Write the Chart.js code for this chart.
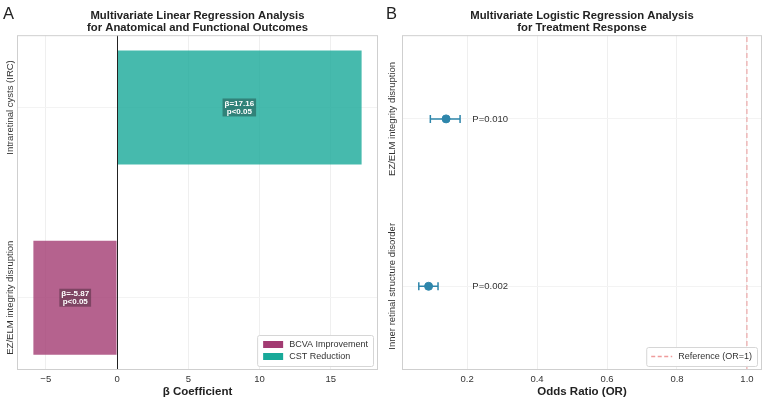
<!DOCTYPE html>
<html>
<head>
<meta charset="utf-8">
<script src="https://cdn.jsdelivr.net/npm/chart.js@4"></script>
<style>
html, body { margin: 0; padding: 0; background: #fff; }
#wrap { display: flex; width: 767px; height: 403px; }
canvas { display: block; }
</style>
</head>
<body>
<div id="wrap">
    <canvas id="chartA" width="383" height="403"></canvas>
    <canvas id="chartB" width="384" height="403"></canvas>
</div>
<script>
const FONT = '"Liberation Sans", Arial, Helvetica, sans-serif';

// Panel A - linear regression (index 0 = bottom row)
const linearCategories = ["EZ/ELM integrity disruption", "Intraretinal cysts (IRC)"];
const bcvaBeta = [-5.87, null];
const cstBeta = [null, 17.16];
const linearP = ["p<0.05", "p<0.05"];
const linearTicks = [-5, 0, 5, 10, 15];

// Panel B - logistic regression (index 0 = bottom row)
const logisticCategories = ["Inner retinal structure disorder", "EZ/ELM integrity disruption"];
const oddsRatio = [0.09, 0.14];
const ciLow = [0.062, 0.095];
const ciHigh = [0.117, 0.18];
const pValues = ["P=0.002", "P=0.010"];
const orTicks = [0.2, 0.4, 0.6, 0.8, 1.0];
const referenceOR = 1;

const toPoints = (vals) => vals
    .map((v, i) => (v === null ? null : { x: v, y: i }))
    .filter((p) => p !== null);

// draws the panel letter, plot frame, rotated category labels and in-plot legend
const panelDecor = {
    id: "panelDecor",
    afterDraw(chart, args, opts) {
        const ctx = chart.ctx;
        const area = chart.chartArea;
        const y = chart.scales.y;
        ctx.save();

        ctx.fillStyle = "#222";
        ctx.font = "16.5px " + FONT;
        ctx.textAlign = "left";
        ctx.textBaseline = "alphabetic";
        ctx.fillText(opts.letter, 3, 19);

        ctx.strokeStyle = "#cfcfcf";
        ctx.lineWidth = 1;
        ctx.strokeRect(area.left + 0.5, area.top + 0.5, area.right - area.left - 1, area.bottom - area.top - 1);

        ctx.fillStyle = "#333";
        ctx.font = "9.5px " + FONT;
        ctx.textAlign = "center";
        ctx.textBaseline = "middle";
        opts.categories.forEach((label, i) => {
            ctx.save();
            ctx.translate(opts.labelX, y.getPixelForValue(i));
            ctx.rotate(-Math.PI / 2);
            ctx.fillText(label, 0, 0);
            ctx.restore();
        });

        // legend box at lower right inside the plot
        const items = opts.legend;
        ctx.font = "9px " + FONT;
        const textW = Math.max(...items.map((it) => ctx.measureText(it.label).width));
        const rowH = 12;
        const boxW = 6 + 20 + 6 + textW + 5;
        const boxH = items.length * rowH + 7;
        const bx = area.right - 5 - boxW;
        const by = area.bottom - 4 - boxH;
        ctx.fillStyle = "rgba(255,255,255,0.9)";
        ctx.strokeStyle = "#d6d6d6";
        ctx.beginPath();
        ctx.roundRect(bx + 0.5, by + 0.5, boxW, boxH, 2);
        ctx.fill();
        ctx.stroke();
        items.forEach((it, i) => {
            const cy = by + 3.5 + rowH * i + rowH / 2;
            if (it.kind === "patch") {
                ctx.fillStyle = it.color;
                ctx.fillRect(bx + 6, cy - 3.5, 20, 7);
            } else {
                ctx.strokeStyle = it.color;
                ctx.lineWidth = 1.3;
                ctx.setLineDash([4, 2.5]);
                ctx.beginPath();
                ctx.moveTo(bx + 5, cy);
                ctx.lineTo(bx + 26, cy);
                ctx.stroke();
                ctx.setLineDash([]);
            }
            ctx.fillStyle = "#333";
            ctx.textAlign = "left";
            ctx.textBaseline = "middle";
            ctx.fillText(it.label, bx + 32, cy + 0.5);
        });
        ctx.restore();
    },
};

// zero line and beta labels in the bars of panel A
const betaLabels = {
    id: "betaLabels",
    afterDatasetsDraw(chart) {
        const ctx = chart.ctx;
        const xs = chart.scales.x;
        const ys = chart.scales.y;
        const area = chart.chartArea;
        ctx.save();
        const x0 = Math.round(xs.getPixelForValue(0)) + 0.5;
        ctx.strokeStyle = "#222";
        ctx.lineWidth = 1;
        ctx.beginPath();
        ctx.moveTo(x0, area.top);
        ctx.lineTo(x0, area.bottom);
        ctx.stroke();

        ctx.font = "bold 8px " + FONT;
        ctx.textAlign = "center";
        ctx.textBaseline = "middle";
        [bcvaBeta, cstBeta].forEach((series) => {
            series.forEach((v, i) => {
                if (v === null) return;
                const cx = (xs.getPixelForValue(0) + xs.getPixelForValue(v)) / 2;
                const cy = ys.getPixelForValue(i);
                const lines = ["\u03b2=" + v.toFixed(2), linearP[i]];
                const w = Math.max(...lines.map((l) => ctx.measureText(l).width)) + 4;
                const h = 18;
                ctx.fillStyle = "rgba(0,0,0,0.3)";
                ctx.fillRect(cx - w / 2, cy - h / 2, w, h);
                ctx.fillStyle = "#fff";
                ctx.fillText(lines[0], cx, cy - 4);
                ctx.fillText(lines[1], cx, cy + 4.5);
            });
        });
        ctx.restore();
    },
};

// error bars and p-value texts of panel B
const errorBars = {
    id: "errorBars",
    beforeDatasetsDraw(chart) {
        const ctx = chart.ctx;
        const xs = chart.scales.x;
        const ys = chart.scales.y;
        ctx.save();
        ctx.strokeStyle = "#2e86ab";
        ctx.lineWidth = 1.5;
        oddsRatio.forEach((v, i) => {
            const y = ys.getPixelForValue(i);
            const xl = xs.getPixelForValue(ciLow[i]);
            const xh = xs.getPixelForValue(ciHigh[i]);
            ctx.beginPath();
            ctx.moveTo(xl, y);
            ctx.lineTo(xh, y);
            ctx.moveTo(xl, y - 4);
            ctx.lineTo(xl, y + 4);
            ctx.moveTo(xh, y - 4);
            ctx.lineTo(xh, y + 4);
            ctx.stroke();
        });
        ctx.fillStyle = "#333";
        ctx.font = "9.5px " + FONT;
        ctx.textAlign = "left";
        ctx.textBaseline = "middle";
        pValues.forEach((p, i) => {
            ctx.fillText(p, xs.getPixelForValue(0.215), ys.getPixelForValue(i));
        });
        ctx.restore();
    },
};

const titleFont = { family: FONT, size: 11.3, weight: "bold", lineHeight: 1.07 };
const tickFont = { family: FONT, size: 9.5 };
const axisTitleFont = { family: FONT, size: 11.5, weight: "bold" };

new Chart(document.getElementById("chartA"), {
    type: "bar",
    data: {
        datasets: [
            {
                label: "BCVA Improvement",
                data: toPoints(bcvaBeta),
                backgroundColor: "rgba(162,59,114,0.8)",
            },
            {
                label: "CST Reduction",
                data: toPoints(cstBeta),
                backgroundColor: "rgba(24,169,153,0.8)",
            },
        ],
    },
    options: {
        responsive: false,
        animation: false,
        indexAxis: "y",
        categoryPercentage: 0.6,
        barPercentage: 1,
        layout: { padding: { left: 0, right: 5, top: 0, bottom: 0 } },
        plugins: {
            legend: { display: false },
            tooltip: { enabled: false },
            title: {
                display: true,
                fullSize: false,
                text: ["Multivariate Linear Regression Analysis", "for Anatomical and Functional Outcomes"],
                font: titleFont,
                color: "#222",
                padding: { top: 10, bottom: 1 },
            },
            panelDecor: {
                letter: "A",
                labelX: 10,
                categories: linearCategories,
                legend: [
                    { label: "BCVA Improvement", kind: "patch", color: "#a23b72" },
                    { label: "CST Reduction", kind: "patch", color: "#18a999" },
                ],
            },
        },
        scales: {
            x: {
                type: "linear",
                min: -7.02,
                max: 18.31,
                afterBuildTicks: (s) => { s.ticks = linearTicks.map((v) => ({ value: v })); },
                ticks: { font: tickFont, color: "#333", padding: 4, callback: (v) => (v < 0 ? "\u2212" + Math.abs(v) : String(v)) },
                grid: { color: "#efefef", drawTicks: false },
                border: { display: false },
                title: { display: true, text: "\u03b2 Coefficient", font: axisTitleFont, color: "#222", padding: { top: 0, bottom: 4 } },
                afterFit: (s) => { s.height = 33; },
            },
            y: {
                type: "linear",
                min: -0.38,
                max: 1.38,
                offset: false,
                stacked: true,
                afterBuildTicks: (s) => { s.ticks = linearCategories.map((c, i) => ({ value: i })); },
                ticks: { display: false },
                grid: { color: "#f3f3f3", drawTicks: false, offset: false },
                border: { display: false },
                afterFit: (s) => { s.width = 17; },
            },
        },
    },
    plugins: [betaLabels, panelDecor],
});

new Chart(document.getElementById("chartB"), {
    type: "scatter",
    data: {
        datasets: [
            {
                label: "Odds Ratio",
                data: toPoints(oddsRatio),
                backgroundColor: "#2e86ab",
                borderColor: "#2e86ab",
                pointRadius: 4,
            },
            {
                label: "Reference (OR=1)",
                data: [{ x: referenceOR, y: -0.5 }, { x: referenceOR, y: 1.5 }],
                showLine: true,
                borderColor: "rgba(228,90,90,0.6)",
                borderWidth: 1,
                borderDash: [5, 3],
                pointRadius: 0,
            },
        ],
    },
    options: {
        responsive: false,
        animation: false,
        layout: { padding: { left: 0, right: 5, top: 0, bottom: 0 } },
        plugins: {
            legend: { display: false },
            tooltip: { enabled: false },
            title: {
                display: true,
                fullSize: false,
                text: ["Multivariate Logistic Regression Analysis", "for Treatment Response"],
                font: titleFont,
                color: "#222",
                padding: { top: 10, bottom: 1 },
            },
            panelDecor: {
                letter: "B",
                labelX: 9,
                categories: logisticCategories,
                legend: [
                    { label: "Reference (OR=1)", kind: "dash", color: "rgba(228,90,90,0.6)" },
                ],
            },
        },
        scales: {
            x: {
                type: "linear",
                min: 0.014,
                max: 1.043,
                afterBuildTicks: (s) => { s.ticks = orTicks.map((v) => ({ value: v })); },
                ticks: { font: tickFont, color: "#333", padding: 4, callback: (v) => v.toFixed(1) },
                grid: { color: "#efefef", drawTicks: false },
                border: { display: false },
                title: { display: true, text: "Odds Ratio (OR)", font: axisTitleFont, color: "#222", padding: { top: 0, bottom: 4 } },
                afterFit: (s) => { s.height = 33; },
            },
            y: {
                type: "linear",
                min: -0.5,
                max: 1.5,
                afterBuildTicks: (s) => { s.ticks = logisticCategories.map((c, i) => ({ value: i })); },
                ticks: { display: false },
                grid: { color: "#f3f3f3", drawTicks: false },
                border: { display: false },
                afterFit: (s) => { s.width = 19; },
            },
        },
    },
    plugins: [errorBars, panelDecor],
});
</script>
</body>
</html>
